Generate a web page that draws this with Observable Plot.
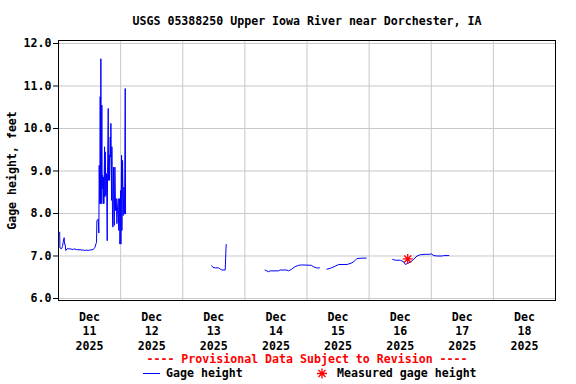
<!DOCTYPE html>
<html>
<head>
<meta charset="utf-8">
<script src="https://cdn.jsdelivr.net/npm/d3@7"></script>
<script src="https://cdn.jsdelivr.net/npm/@observablehq/plot@0.6"></script>
<style>
  html, body { margin: 0; padding: 0; background: #fff; }
</style>
</head>
<body>
<div id="chart"></div>
<script>
// ---- Data ----
const chartTitle = "USGS 05388250 Upper Iowa River near Dorchester, IA";
const yLabel = "Gage height, feet";
const provisionalNote = "---- Provisional Data Subject to Revision ----";
const legendLine = "Gage height";
const legendStar = "Measured gage height";

// hours after 2025-12-11 00:00, and gage height in feet (null = gap)
const gageHours = [
  0.45, 0.55, 1.15, 1.53, 1.79, 2.18, 2.30, 2.56, 2.82, 3.34, 4.37, 5.66, 5.92, 6.95,
  9.53, 10.18, 10.82, 11.47, 12.11, 13.40, 14.05, 14.43, 14.69, 14.82, 15.34, 15.59,
  15.72, 15.98, 16.11, 16.24, 16.37, 16.50, 16.75, 16.88, 17.01, 17.27, 17.40, 17.53,
  17.79, 17.92, 18.04, 18.30, 18.56, 18.82, 18.95, 19.21, 19.33, 19.59, 19.72, 19.98,
  20.11, 20.24, 20.50, 20.62, 20.88, 21.01, 21.27, 21.53, 21.79, 22.04, 22.30, 22.56,
  22.82, 23.08, 23.20, 23.33, 23.59, 23.72, 23.85, 23.98, 24.11, 24.37, 24.49, 24.75,
  25.01, 25.27, 25.53, 25.78, 25.91,
  40.0,
  59.2, 59.7, 60.6, 61.9, 62.5, 63.1, 64.4, 64.7, 64.8,
  72.0,
  79.8, 81.1, 81.8, 85.0, 85.6, 88.2, 88.8, 90.1, 91.4, 92.7, 94.0, 97.8, 98.4, 99.7, 100.8,
  102.0,
  103.7, 105.0, 106.9, 108.2, 111.5, 113.4, 114.7, 115.3, 117.3, 118.9,
  124.0,
  129.1, 130.2, 132.1, 133.4, 134.0, 134.7, 136.0, 137.2, 138.5, 139.8, 141.8, 143.4,
  144.0, 145.0, 146.3, 148.2, 148.8, 150.8
];
const gageFeet = [
  7.56, 7.19, 7.17, 7.22, 7.32, 7.43, 7.28, 7.28, 7.13, 7.17, 7.17, 7.15, 7.17, 7.15,
  7.14, 7.13, 7.14, 7.13, 7.14, 7.15, 7.20, 7.28, 7.32, 7.83, 7.87, 7.54,
  9.13, 8.23, 10.75, 8.23, 11.64, 8.23, 10.55, 8.58, 8.90, 8.23, 8.86, 8.23,
  9.57, 8.39, 9.45, 8.43, 8.94, 7.36, 8.94, 10.47, 8.78, 9.37, 8.78, 9.80,
  9.33, 10.12, 8.31, 9.57, 7.83, 7.68, 9.09, 7.72, 9.09, 8.07, 8.35, 7.76,
  8.15, 8.35, 7.76, 7.60, 8.35, 7.28, 7.60, 8.54, 7.28, 9.37, 7.60, 9.25,
  7.95, 8.62, 7.99, 10.94, 7.99,
  null,
  6.77, 6.73, 6.72, 6.72, 6.69, 6.67, 6.67, 7.17, 7.27,
  null,
  6.67, 6.63, 6.65, 6.65, 6.67, 6.67, 6.65, 6.69, 6.75, 6.78, 6.79, 6.78, 6.75, 6.72, 6.72,
  null,
  6.69, 6.71, 6.76, 6.80, 6.80, 6.84, 6.90, 6.94, 6.95, 6.95,
  null,
  6.92, 6.90, 6.90, 6.86, 6.80, 6.82, 6.86, 6.92, 7.00, 7.03, 7.04, 7.04,
  7.05, 7.01, 7.00, 7.00, 7.01, 7.01
];

const measuredHours = [134.9];
const measuredFeet = [6.93];

const yTicks = [6, 7, 8, 9, 10, 11, 12];
const gridDays = [12, 13, 14, 15, 16, 17, 18];
const labelDays = [11, 12, 13, 14, 15, 16, 17, 18];
const xTickLabels = ["Dec\n11\n2025", "Dec\n12\n2025", "Dec\n13\n2025", "Dec\n14\n2025",
                     "Dec\n15\n2025", "Dec\n16\n2025", "Dec\n17\n2025", "Dec\n18\n2025"];

// ---- Build ----
const start = Date.UTC(2025, 11, 11);
const hourToDate = h => new Date(start + h * 3600e3);
const series = gageHours.map((h, i) => ({t: hourToDate(h), v: gageFeet[i]}));
const measured = measuredHours.map((h, i) => ({t: hourToDate(h), v: measuredFeet[i]}));
const gridDates = gridDays.map(d => new Date(Date.UTC(2025, 11, d)));
const labelDates = labelDays.map(d => new Date(Date.UTC(2025, 11, d, 12)));

const FONT = "DejaVu Sans Mono";
const FS = 11.6;

const star8 = {
  draw(ctx, size) {
    const r = Math.sqrt(size / Math.PI);
    for (let k = 0; k < 4; k++) {
      const a = k * Math.PI / 4;
      ctx.moveTo(r * Math.cos(a), r * Math.sin(a));
      ctx.lineTo(-r * Math.cos(a), -r * Math.sin(a));
    }
  }
};

function legend(index, scales, values, dims) {
  const g = d3.create("svg:g")
    .attr("font-family", FONT).attr("font-size", FS).attr("font-weight", "bold")
    .attr("text-anchor", "start");
  const yRow = 373.5;
  g.append("line").attr("x1", 143).attr("x2", 160).attr("y1", yRow).attr("y2", yRow)
    .attr("stroke", "#0000ff").attr("stroke-width", 1);
  g.append("text").attr("x", 166).attr("y", yRow).attr("dy", "0.32em")
    .attr("text-anchor", "start").attr("fill", "black").text(legendLine);
  const r = 5;
  const p = d3.path();
  star8.draw(p, r * r * Math.PI);
  g.append("path").attr("d", p.toString()).attr("transform", `translate(322,${yRow})`)
    .attr("stroke", "red").attr("stroke-width", 1.3).attr("fill", "none");
  g.append("text").attr("x", 337).attr("y", yRow).attr("dy", "0.32em")
    .attr("text-anchor", "start").attr("fill", "black").text(legendStar);
  return g.node();
}

const chart = Plot.plot({
  width: 576,
  height: 384,
  marginLeft: 58,
  marginRight: 21,
  marginTop: 40,
  marginBottom: 84,
  style: {fontFamily: FONT, fontSize: FS + "px", fontWeight: "bold", background: "white", color: "black"},
  x: {type: "utc", domain: [new Date(Date.UTC(2025, 11, 11)), new Date(Date.UTC(2025, 11, 19))]},
  y: {domain: [5.953, 12.07]},
  marks: [
    Plot.gridY(yTicks, {stroke: "#c8c8c8", strokeOpacity: 1, strokeWidth: 1}),
    Plot.gridX(gridDates, {stroke: "#c8c8c8", strokeOpacity: 1, strokeWidth: 1}),
    Plot.axisY({ticks: yTicks, tickFormat: d => d.toFixed(1), tickSize: 5, tickPadding: 2,
                label: null, fontWeight: "bold", fontSize: FS, fontFamily: FONT}),
    Plot.axisX({ticks: labelDates, tickFormat: (d, i) => xTickLabels[i], tickSize: 0, tickPadding: 10,
                lineHeight: 14.5 / FS, label: null, fontWeight: "bold", fontSize: FS, fontFamily: FONT}),
    Plot.line(series, {x: "t", y: "v", stroke: "#0000ff", strokeWidth: 1}),
    Plot.dot(measured, {x: "t", y: "v", symbol: star8, r: 5, stroke: "red", strokeWidth: 1.3}),
    Plot.frame({stroke: "black", strokeWidth: 1}),
    Plot.text([chartTitle], {frameAnchor: "top", dy: -24, textAnchor: "middle", fontWeight: "bold", fontSize: FS, fontFamily: FONT, fill: "black"}),
    Plot.text([yLabel], {frameAnchor: "left", dx: -46, rotate: -90, textAnchor: "middle", fontWeight: "bold", fontSize: FS, fontFamily: FONT, fill: "black"}),
    Plot.text([provisionalNote], {frameAnchor: "bottom", dy: 62.5, textAnchor: "middle", fontWeight: "bold", fontSize: FS, fontFamily: FONT, fill: "red"}),
    legend
  ]
});
document.getElementById("chart").appendChild(chart);
</script>
</body>
</html>
